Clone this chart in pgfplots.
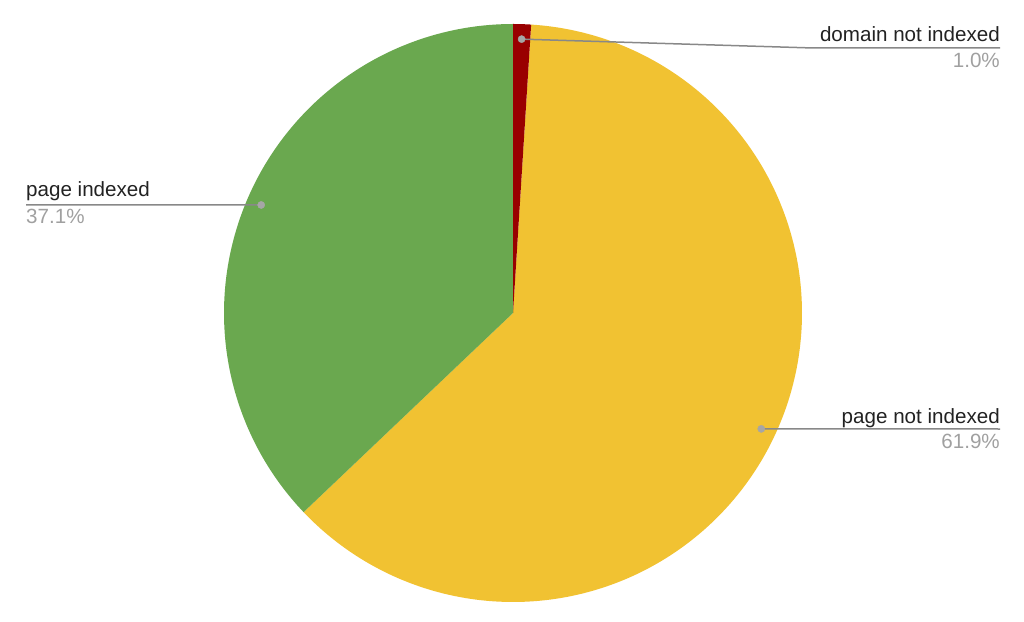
\documentclass[border=0pt]{standalone}
\usepackage{pgfplots}
\pgfplotsset{compat=1.18}
\usepackage{fontspec}
\setmainfont{Liberation Sans}
\definecolor{cred}{HTML}{990000}
\definecolor{cyellow}{HTML}{F1C232}
\definecolor{cgreen}{HTML}{6AA84F}
\definecolor{ctext}{HTML}{222222}
\definecolor{cpct}{HTML}{A0A0A0}
\definecolor{cline}{HTML}{888888}
\definecolor{cdot}{HTML}{A6A6A6}
% data (percent)
\def\vDomain{1.0}
\def\vPageNot{61.9}
\def\vPage{37.1}
\begin{document}
\begin{tikzpicture}
\pgfmathsetmacro{\aA}{90}
\pgfmathsetmacro{\aB}{90-3.6*\vDomain}
\pgfmathsetmacro{\aC}{\aB-3.6*\vPageNot}
\pgfmathsetmacro{\aD}{\aC-3.6*\vPage}
\pgfmathsetmacro{\mA}{(\aA+\aB)/2}
\pgfmathsetmacro{\mB}{(\aB+\aC)/2}
\pgfmathsetmacro{\mC}{(\aC+\aD)/2}
\pgfmathsetmacro{\dAx}{513+274*cos(\mA)}\pgfmathsetmacro{\dAy}{308+274*sin(\mA)}
\pgfmathsetmacro{\dBx}{513+274*cos(\mB)}\pgfmathsetmacro{\dBy}{308+274*sin(\mB)}
\pgfmathsetmacro{\dCx}{513+274*cos(\mC)}\pgfmathsetmacro{\dCy}{308+274*sin(\mC)}
\begin{axis}[
  scale only axis, width=1024bp, height=621bp,
  xmin=0, xmax=1024, ymin=0, ymax=621,
  hide axis, clip=false,
]
\path (axis cs:0,0) rectangle (axis cs:1024,621);
\addplot[fill=cyellow, draw=none, domain=\aC:\aB, samples=200, variable=\t]
  ({513+289*cos(\t)},{308+289*sin(\t)}) -- (axis cs:513,308) -- cycle;
\addplot[fill=cgreen, draw=none, domain=\aD:\aC, samples=150, variable=\t]
  ({513+289*cos(\t)},{308+289*sin(\t)}) -- (axis cs:513,308) -- cycle;
\addplot[fill=cred, draw=none, domain=\aB:\aA, samples=10, variable=\t]
  ({513+289*cos(\t)},{308+289*sin(\t)}) -- (axis cs:513,308) -- cycle;
% leader lines
\addplot[cline, line width=1.5bp, no marks] coordinates {(\dAx,\dAy) (813,573) (1000,573)};
\addplot[cline, line width=1.5bp, no marks] coordinates {(\dBx,\dBy) (1000,192)};
\addplot[cline, line width=1.5bp, no marks] coordinates {(\dCx,\dCy) (26,416)};
\addplot[only marks, mark=*, mark size=3.6bp, cdot, mark options={draw=cdot, fill=cdot}]
  coordinates {(\dAx,\dAy) (\dBx,\dBy) (\dCx,\dCy)};
% labels
\node[anchor=base east, inner sep=0pt, text=ctext, font=\fontsize{20.6bp}{24bp}\selectfont] at (axis cs:1000,579) {domain not indexed};
\node[anchor=base east, inner sep=0pt, text=cpct, font=\fontsize{20.6bp}{24bp}\selectfont] at (axis cs:1000,553) {1.0\%};
\node[anchor=base east, inner sep=0pt, text=ctext, font=\fontsize{20.6bp}{24bp}\selectfont] at (axis cs:1000,198) {page not indexed};
\node[anchor=base east, inner sep=0pt, text=cpct, font=\fontsize{20.6bp}{24bp}\selectfont] at (axis cs:1000,173) {61.9\%};
\node[anchor=base west, inner sep=0pt, text=ctext, font=\fontsize{20.6bp}{24bp}\selectfont] at (axis cs:26,424) {page indexed};
\node[anchor=base west, inner sep=0pt, text=cpct, font=\fontsize{20.6bp}{24bp}\selectfont] at (axis cs:26,397) {37.1\%};
\end{axis}
\end{tikzpicture}
\end{document}
